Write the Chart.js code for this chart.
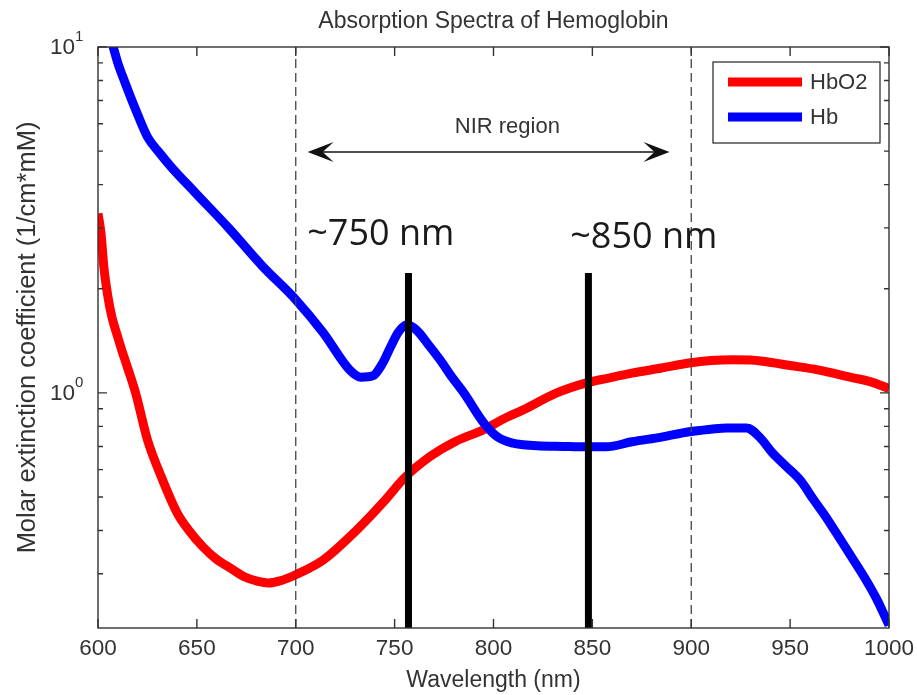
<!DOCTYPE html>
<html>
<head>
<meta charset="utf-8">
<script src="https://cdn.jsdelivr.net/npm/chart.js@4.4.1/dist/chart.umd.min.js"></script>
<style>
    html, body { margin: 0; padding: 0; background: #fff; }
</style>
</head>
<body>
<canvas id="spectra-chart" width="917" height="695"></canvas>
<script>
// values
const hb_wavelengths = [600, 606, 610, 614, 619, 625, 631, 637, 649, 666, 683, 700, 714, 727, 733, 739, 744, 748, 752, 756, 761, 767, 773, 779, 785, 795, 802, 810, 815, 822, 835, 847, 857, 870, 885, 899, 910, 918, 928, 935, 941, 948, 955, 962, 969, 975, 982, 988, 994, 997, 1000];
const hb_values = [13.5, 10.8, 9.0, 7.8, 6.6, 5.5, 4.95, 4.5, 3.80, 3.0, 2.33, 1.86, 1.49, 1.17, 1.11, 1.12, 1.22, 1.36, 1.50, 1.57, 1.52, 1.38, 1.245, 1.11, 1.0, 0.82, 0.746, 0.715, 0.708, 0.703, 0.700, 0.698, 0.698, 0.722, 0.745, 0.772, 0.785, 0.792, 0.792, 0.74, 0.671, 0.613, 0.56, 0.49, 0.43, 0.38, 0.329, 0.29, 0.252, 0.232, 0.213];

const hbo2_wavelengths = [600, 601.5, 603, 605, 607, 610, 612, 615, 619, 625, 632, 640, 646, 653, 660, 666, 674, 681, 686, 692, 700, 714, 731, 744, 755, 768, 781, 795, 805, 815, 832, 847, 857, 870, 885, 899, 910, 921, 930, 938, 950, 964, 982, 990, 1000];
const hbo2_values = [3.3, 2.9, 2.3, 1.9, 1.66, 1.45, 1.33, 1.18, 1.0, 0.732, 0.572, 0.45, 0.40, 0.359, 0.33, 0.314, 0.294, 0.285, 0.282, 0.286, 0.298, 0.329, 0.402, 0.481, 0.568, 0.655, 0.725, 0.782, 0.84, 0.893, 1.0, 1.069, 1.10, 1.14, 1.18, 1.22, 1.24, 1.246, 1.245, 1.23, 1.20, 1.166, 1.105, 1.08, 1.03];

const series_labels = ['HbO2', 'Hb'];
const x_ticks = [600, 650, 700, 750, 800, 850, 900, 950, 1000];
const y_major_ticks = [1, 10];
const y_minor_ticks = [0.3, 0.4, 0.5, 0.6, 0.7, 0.8, 0.9, 2, 3, 4, 5, 6, 7, 8, 9];
const y_range = [0.209, 10];

const region_bounds = [700, 900];          // dashed lines
const marker_wavelengths = [757, 848];     // thick black bars
const marker_top = 2.22;
const nir_arrow = [706, 889];              // wavelength span of the arrow
const nir_arrow_level = 4.97;
const nir_label = ['NIR region', 807, 5.87];
const marker_labels = [['~750 nm', 743, 2.68], ['~850 nm', 876, 2.62]];

const TEXT = '#333';
const SANS = '"Liberation Sans", Arial, Helvetica, sans-serif';

function vline(x, y0, y1) {
    return [{x: x, y: y0}, {x: x, y: y1}];
}

function draw_arrow_head(ctx, px, py, dir) {
    ctx.beginPath();
    ctx.moveTo(px, py);
    ctx.lineTo(px + dir * 26, py - 10);
    ctx.lineTo(px + dir * 15, py);
    ctx.lineTo(px + dir * 26, py + 10);
    ctx.closePath();
    ctx.fill();
}

// box, inner ticks, log labels, legend and text notes drawn matlab style
const matlab_axes = {
    id: 'matlabAxes',
    afterDatasetsDraw(chart) {
        const {ctx, chartArea: a, scales: {x, y}} = chart;
        ctx.save();

        ctx.strokeStyle = '#333';
        ctx.lineWidth = 1.4;
        ctx.strokeRect(a.left, a.top, a.right - a.left, a.bottom - a.top);

        ctx.beginPath();
        x_ticks.forEach(v => {
            const px = x.getPixelForValue(v);
            ctx.moveTo(px, a.bottom); ctx.lineTo(px, a.bottom - 9);
            ctx.moveTo(px, a.top); ctx.lineTo(px, a.top + 9);
        });
        y_major_ticks.forEach(v => {
            const py = y.getPixelForValue(v);
            ctx.moveTo(a.left, py); ctx.lineTo(a.left + 9, py);
            ctx.moveTo(a.right, py); ctx.lineTo(a.right - 9, py);
        });
        y_minor_ticks.forEach(v => {
            const py = y.getPixelForValue(v);
            ctx.moveTo(a.left, py); ctx.lineTo(a.left + 5, py);
            ctx.moveTo(a.right, py); ctx.lineTo(a.right - 5, py);
        });
        ctx.stroke();

        // 10^n labels
        ctx.fillStyle = TEXT;
        y_major_ticks.forEach(v => {
            const py = y.getPixelForValue(v);
            ctx.font = '22.5px ' + SANS;
            ctx.textAlign = 'right';
            ctx.textBaseline = 'middle';
            ctx.fillText('10', a.left - 23, py + 1);
            ctx.font = '15px ' + SANS;
            ctx.textAlign = 'left';
            ctx.textBaseline = 'alphabetic';
            ctx.fillText(String(Math.round(Math.log10(v))), a.left - 23, py - 6);
        });

        // title, centred over the axes
        ctx.font = '23px ' + SANS;
        ctx.textAlign = 'center';
        ctx.textBaseline = 'middle';
        ctx.fillText('Absorption Spectra of Hemoglobin', (a.left + a.right) / 2, 22);

        // NIR arrow
        const ay = y.getPixelForValue(nir_arrow_level);
        const ax0 = x.getPixelForValue(nir_arrow[0]);
        const ax1 = x.getPixelForValue(nir_arrow[1]);
        ctx.strokeStyle = '#111';
        ctx.fillStyle = '#111';
        ctx.lineWidth = 1.5;
        ctx.beginPath();
        ctx.moveTo(ax0 + 10, ay);
        ctx.lineTo(ax1 - 10, ay);
        ctx.stroke();
        draw_arrow_head(ctx, ax0, ay, 1);
        draw_arrow_head(ctx, ax1, ay, -1);

        ctx.fillStyle = TEXT;
        ctx.font = '22px ' + SANS;
        ctx.fillText(nir_label[0], x.getPixelForValue(nir_label[1]), y.getPixelForValue(nir_label[2]));

        ctx.fillStyle = '#1a1a1a';
        ctx.font = '36px "Open Sans", "Noto Sans", sans-serif';
        ctx.textAlign = 'center';
        ctx.textBaseline = 'alphabetic';
        marker_labels.forEach(([txt, wl, val]) => {
            ctx.fillText(txt, x.getPixelForValue(wl), y.getPixelForValue(val));
        });

        // legend with a frame
        const lx = a.right - 176, ly = a.top + 15, lw = 167, lh = 81;
        ctx.fillStyle = '#fff';
        ctx.fillRect(lx, ly, lw, lh);
        ctx.strokeStyle = '#222';
        ctx.lineWidth = 1.2;
        ctx.strokeRect(lx, ly, lw, lh);
        const legend_sets = [chart.data.datasets[5], chart.data.datasets[4]];
        legend_sets.forEach((ds, i) => {
            const ry = ly + 20 + i * 35;
            ctx.strokeStyle = ds.borderColor;
            ctx.lineWidth = 9;
            ctx.beginPath();
            ctx.moveTo(lx + 15, ry);
            ctx.lineTo(lx + 89, ry);
            ctx.stroke();
            ctx.fillStyle = TEXT;
            ctx.font = '22px ' + SANS;
            ctx.textAlign = 'left';
            ctx.textBaseline = 'middle';
            ctx.fillText(ds.label, lx + 97, ry + 1);
        });

        ctx.restore();
    }
};

const chart = new Chart(document.getElementById('spectra-chart'), {
    type: 'line',
    data: {
        datasets: [
            {data: vline(marker_wavelengths[0], y_range[0], marker_top), borderColor: '#000', borderWidth: 7},
            {data: vline(marker_wavelengths[1], y_range[0], marker_top), borderColor: '#000', borderWidth: 7},
            {data: vline(region_bounds[0], y_range[0], y_range[1]), borderColor: '#444', borderWidth: 1.3, borderDash: [9, 5]},
            {data: vline(region_bounds[1], y_range[0], y_range[1]), borderColor: '#444', borderWidth: 1.3, borderDash: [9, 5]},
            {
                label: series_labels[1],
                data: hb_wavelengths.map((w, i) => ({x: w, y: hb_values[i]})),
                borderColor: '#0000ff',
                borderWidth: 9,
                cubicInterpolationMode: 'monotone'
            },
            {
                label: series_labels[0],
                data: hbo2_wavelengths.map((w, i) => ({x: w, y: hbo2_values[i]})),
                borderColor: '#ff0000',
                borderWidth: 9,
                cubicInterpolationMode: 'monotone'
            }
        ]
    },
    options: {
        responsive: false,
        animation: false,
        events: [],
        clip: 0,
        elements: {
            point: {radius: 0},
            line: {borderCapStyle: 'butt', borderJoinStyle: 'round'}
        },
        layout: {
            padding: {left: 0, top: 47, right: 28, bottom: 0}
        },
        plugins: {
            legend: {display: false},
            title: {display: false},
            tooltip: {enabled: false}
        },
        scales: {
            x: {
                type: 'linear',
                min: 600,
                max: 1000,
                grid: {display: false, drawTicks: false},
                border: {display: false},
                afterBuildTicks: scale => { scale.ticks = x_ticks.map(v => ({value: v})); },
                afterFit: scale => {
                    scale.height = 67;
                    scale.paddingLeft = 0;
                    scale.paddingRight = 0;
                },
                ticks: {
                    padding: 7,
                    color: TEXT,
                    font: {family: SANS, size: 22.5},
                    callback: v => String(v)
                },
                title: {
                    display: true,
                    text: 'Wavelength (nm)',
                    color: TEXT,
                    font: {family: SANS, size: 23},
                    padding: {top: 0, bottom: 1}
                }
            },
            y: {
                type: 'logarithmic',
                min: y_range[0],
                max: y_range[1],
                grid: {display: false, drawTicks: false},
                border: {display: false},
                ticks: {display: false},
                afterFit: scale => { scale.width = 98; },
                title: {
                    display: true,
                    text: 'Molar extinction coefficient (1/cm*mM)',
                    color: TEXT,
                    font: {family: SANS, size: 25.5},
                    padding: {top: 13, bottom: 0}
                }
            }
        }
    },
    plugins: [matlab_axes]
});
</script>
</body>
</html>
